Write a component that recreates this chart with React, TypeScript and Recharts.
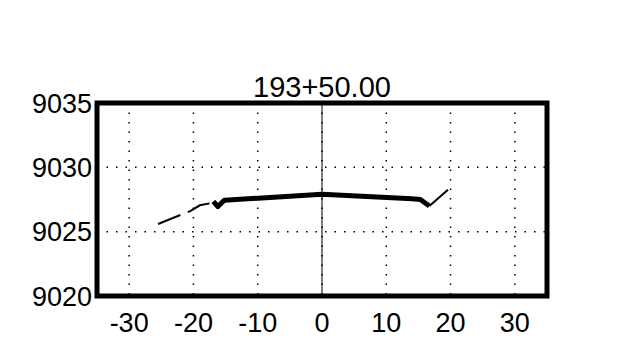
import React from 'react';
import { LineChart, Line, XAxis, YAxis, CartesianGrid, ReferenceArea, ReferenceLine, Label } from 'recharts';

const TITLE = '193+50.00';
const X_TICKS = [-30, -20, -10, 0, 10, 20, 30];
const Y_TICKS = [9020, 9025, 9030, 9035];

// existing ground, left of the section (dashed)
const groundLeftX = [-25.5, -20.5, -19, -17.5];
const groundLeftY = [9025.6, 9026.6, 9027.05, 9027.2];

// finished road surface (heavy line)
const roadX = [-16.9, -16.2, -15.2, 0, 14, 15.3, 16.7];
const roadY = [9027.35, 9026.95, 9027.45, 9027.9, 9027.55, 9027.5, 9027.0];

// existing ground, right tie-in
const groundRightX = [16.7, 19.6];
const groundRightY = [9027.0, 9028.25];

const toPoints = (xs: number[], ys: number[]) => xs.map((x, i) => ({ x, y: ys[i] }));

const FONT = '"Liberation Sans", Arial, sans-serif';
const tickStyle = { fontSize: 27, fill: '#000', fontFamily: FONT };

const App: React.FC = () => {
  return (
    <div style={{ width: 623, height: 347, fontFamily: FONT }}>
      <style>{'body{margin:0}'}</style>
      <LineChart width={623} height={347} margin={{ top: 103, right: 0, bottom: 0, left: 0 }}>
        <CartesianGrid yAxisId="left" stroke="#000" strokeWidth={1.5} strokeDasharray="1.5 8" />
        <XAxis
          type="number"
          dataKey="x"
          domain={[-35, 35]}
          ticks={X_TICKS}
          height={51}
          axisLine={false}
          tickLine={false}
          tickSize={0}
          tickMargin={17}
          tick={tickStyle}
        />
        <YAxis
          yAxisId="left"
          type="number"
          domain={[9020, 9035]}
          ticks={Y_TICKS}
          width={97}
          axisLine={false}
          tickLine={false}
          tickSize={0}
          tickMargin={5}
          tick={tickStyle}
        />
        <YAxis
          yAxisId="right"
          orientation="right"
          type="number"
          domain={[9020, 9035]}
          ticks={Y_TICKS}
          width={76}
          axisLine={false}
          tickLine={false}
          tickSize={0}
          tickMargin={5}
          tick={tickStyle}
        />
        <ReferenceLine yAxisId="left" x={0} stroke="#000" strokeWidth={1} />
        <ReferenceArea
          yAxisId="left"
          x1={-35}
          x2={35}
          y1={9020}
          y2={9035}
          fill="none"
          fillOpacity={0}
          stroke="#000"
          strokeWidth={5}
          ifOverflow="visible"
        >
          <Label value={TITLE} position="top" offset={6} style={{ fontSize: 29, fill: '#000', fontFamily: FONT }} />
        </ReferenceArea>
        <Line
          yAxisId="left"
          data={toPoints(groundLeftX, groundLeftY)}
          dataKey="y"
          type="linear"
          stroke="#000"
          strokeWidth={2}
          strokeDasharray="24 8"
          dot={false}
          isAnimationActive={false}
        />
        <Line
          yAxisId="left"
          data={toPoints(groundRightX, groundRightY)}
          dataKey="y"
          type="linear"
          stroke="#000"
          strokeWidth={2}
          dot={false}
          isAnimationActive={false}
        />
        <Line
          yAxisId="left"
          data={toPoints(roadX, roadY)}
          dataKey="y"
          type="linear"
          stroke="#000"
          strokeWidth={5}
          strokeLinejoin="round"
          dot={false}
          isAnimationActive={false}
        />
      </LineChart>
    </div>
  );
};

export default App;
